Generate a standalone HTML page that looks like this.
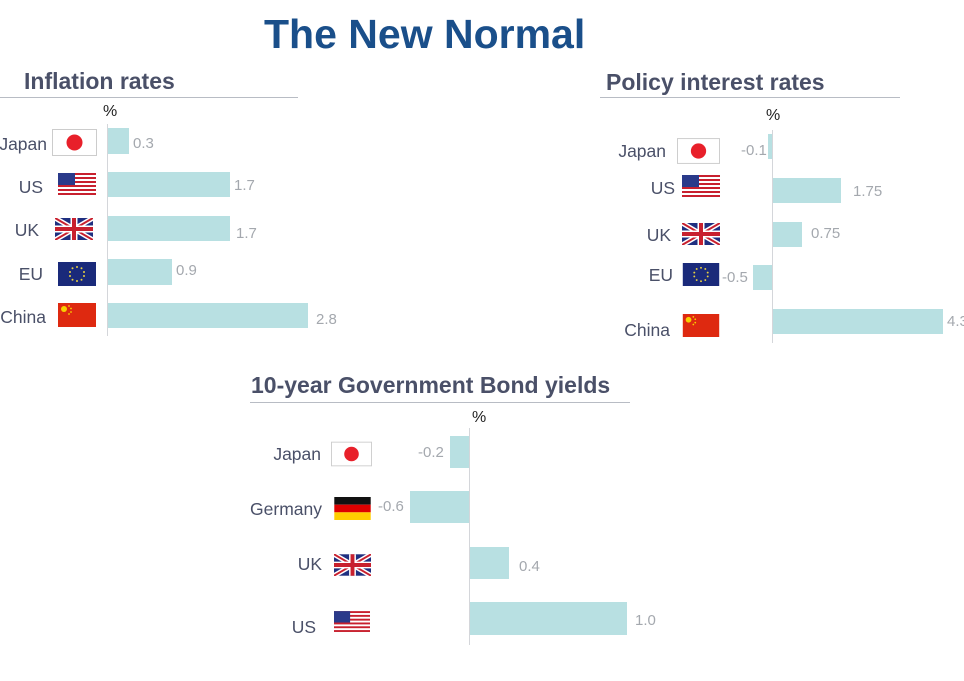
<!DOCTYPE html>
<html><head><meta charset="utf-8">
<style>
body{margin:0;width:964px;height:681px;background:#fff;position:relative;overflow:hidden;font-family:"Liberation Sans",Arial,sans-serif}
.a{position:absolute;white-space:nowrap}
.t{font-weight:bold;color:#4a5068;font-size:23px}
.ul{position:absolute;height:1px;background:#b8bcc4}
.ax{position:absolute;width:1px;background:#d4d6da}
.bar{position:absolute;background:#b8e0e2}
.c{position:absolute;color:#4a5068;font-size:17.5px;text-align:right;width:120px}
.v{position:absolute;color:#a4a8ae;font-size:15px}
.p{position:absolute;font-size:16px;color:#222}
svg{position:absolute}
</style></head><body>
<svg width="0" height="0" style="position:absolute">
<defs>
<symbol id="jp" viewBox="0 0 45 27"><rect x="0.5" y="0.5" width="44" height="26" fill="#fff" stroke="#ccc"/><circle cx="22.5" cy="13.5" r="8" fill="#e8202a"/></symbol>
<symbol id="us" viewBox="0 0 38 24"><rect width="38" height="24" fill="#fff"/><g fill="#c8202e"><rect y="0" width="38" height="2"/><rect y="4" width="38" height="2"/><rect y="8" width="38" height="2"/><rect y="12" width="38" height="2"/><rect y="16" width="38" height="2"/><rect y="20" width="38" height="2"/></g><rect width="17" height="12" fill="#2a3a8a"/></symbol>
<symbol id="uk" viewBox="0 0 38 22"><rect width="38" height="22" fill="#1f2f80"/><path d="M0 0L38 22M38 0L0 22" stroke="#fff" stroke-width="5"/><path d="M0 0L38 22M38 0L0 22" stroke="#c8202e" stroke-width="2"/><path d="M19 0V22M0 11H38" stroke="#fff" stroke-width="7"/><path d="M19 0V22M0 11H38" stroke="#c8202e" stroke-width="4"/></symbol>
<symbol id="eu" viewBox="0 0 38 24"><rect width="38" height="24" fill="#1a2a7a"/><g fill="#e8d040"><circle cx="19" cy="5" r="1"/><circle cx="23.5" cy="6.2" r="1"/><circle cx="26" cy="10" r="1"/><circle cx="26" cy="14" r="1"/><circle cx="23.5" cy="17.8" r="1"/><circle cx="19" cy="19" r="1"/><circle cx="14.5" cy="17.8" r="1"/><circle cx="12" cy="14" r="1"/><circle cx="12" cy="10" r="1"/><circle cx="14.5" cy="6.2" r="1"/></g></symbol>
<symbol id="cn" viewBox="0 0 38 24"><rect width="38" height="24" fill="#de2910"/><circle cx="6" cy="6" r="3" fill="#f8d000"/><g fill="#f8d000"><circle cx="11" cy="3" r="0.9"/><circle cx="13" cy="5.5" r="0.9"/><circle cx="13" cy="9" r="0.9"/><circle cx="11" cy="11" r="0.9"/></g></symbol>
<symbol id="de" viewBox="0 0 38 24"><rect width="38" height="8" fill="#111"/><rect y="8" width="38" height="8" fill="#dd0000"/><rect y="16" width="38" height="8" fill="#ffce00"/></symbol>
</defs></svg>

<div class="a" style="left:264px;top:11px;font-size:41px;font-weight:bold;color:#1a4f8a">The New Normal</div>

<!-- Inflation -->
<div class="a t" style="left:24px;top:68px">Inflation rates</div>
<div class="ul" style="left:0;top:97px;width:298px"></div>
<div class="p" style="left:103px;top:103px">%</div>
<div class="ax" style="left:107px;top:124px;height:212px"></div>
<div class="c" style="left:-73px;top:134px">Japan</div>
<div class="c" style="left:-77px;top:177px">US</div>
<div class="c" style="left:-81px;top:220px">UK</div>
<div class="c" style="left:-77px;top:264px">EU</div>
<div class="c" style="left:-74px;top:307px">China</div>
<svg style="left:52px;top:129px" width="45" height="27"><use href="#jp"/></svg>
<svg style="left:58px;top:173px" width="38" height="24"><use href="#us"/></svg>
<svg style="left:55px;top:218px" width="38" height="22"><use href="#uk"/></svg>
<svg style="left:58px;top:262px" width="38" height="24"><use href="#eu"/></svg>
<svg style="left:58px;top:303px" width="38" height="24"><use href="#cn"/></svg>
<div class="bar" style="left:108px;top:128px;width:21px;height:26px"></div>
<div class="bar" style="left:108px;top:172px;width:122px;height:25px"></div>
<div class="bar" style="left:108px;top:216px;width:122px;height:25px"></div>
<div class="bar" style="left:108px;top:259px;width:64px;height:26px"></div>
<div class="bar" style="left:108px;top:303px;width:200px;height:25px"></div>
<div class="v" style="left:133px;top:135px">0.3</div>
<div class="v" style="left:234px;top:177px">1.7</div>
<div class="v" style="left:236px;top:225px">1.7</div>
<div class="v" style="left:176px;top:262px">0.9</div>
<div class="v" style="left:316px;top:311px">2.8</div>

<!-- Policy -->
<div class="a t" style="left:606px;top:69px">Policy interest rates</div>
<div class="ul" style="left:600px;top:97px;width:300px"></div>
<div class="p" style="left:766px;top:107px">%</div>
<div class="ax" style="left:772px;top:130px;height:213px"></div>
<div class="c" style="left:546px;top:141px">Japan</div>
<div class="c" style="left:555px;top:178px">US</div>
<div class="c" style="left:551px;top:225px">UK</div>
<div class="c" style="left:553px;top:265px">EU</div>
<div class="c" style="left:550px;top:320px">China</div>
<svg style="left:677px;top:138px" width="43" height="26"><use href="#jp"/></svg>
<svg style="left:682px;top:175px" width="38" height="24"><use href="#us"/></svg>
<svg style="left:682px;top:223px" width="38" height="22"><use href="#uk"/></svg>
<svg style="left:682px;top:263px" width="38" height="23"><use href="#eu"/></svg>
<svg style="left:682px;top:314px" width="38" height="23"><use href="#cn"/></svg>
<div class="bar" style="left:768px;top:134px;width:4px;height:25px"></div>
<div class="bar" style="left:773px;top:178px;width:68px;height:25px"></div>
<div class="bar" style="left:773px;top:222px;width:29px;height:25px"></div>
<div class="bar" style="left:753px;top:265px;width:19px;height:25px"></div>
<div class="bar" style="left:773px;top:309px;width:170px;height:25px"></div>
<div class="v" style="left:741px;top:142px">-0.1</div>
<div class="v" style="left:853px;top:183px">1.75</div>
<div class="v" style="left:811px;top:225px">0.75</div>
<div class="v" style="left:722px;top:269px">-0.5</div>
<div class="v" style="left:947px;top:313px">4.3</div>

<!-- Bonds -->
<div class="a t" style="left:251px;top:372px">10-year Government Bond yields</div>
<div class="ul" style="left:250px;top:402px;width:380px"></div>
<div class="p" style="left:472px;top:409px">%</div>
<div class="ax" style="left:469px;top:428px;height:217px"></div>
<div class="c" style="left:201px;top:444px">Japan</div>
<div class="c" style="left:202px;top:499px">Germany</div>
<div class="c" style="left:202px;top:554px">UK</div>
<div class="c" style="left:196px;top:617px">US</div>
<svg style="left:331px;top:440px" width="41" height="28"><use href="#jp"/></svg>
<svg style="left:334px;top:497px" width="37" height="23"><use href="#de"/></svg>
<svg style="left:334px;top:554px" width="37" height="22"><use href="#uk"/></svg>
<svg style="left:334px;top:611px" width="36" height="23"><use href="#us"/></svg>
<div class="bar" style="left:450px;top:436px;width:19px;height:32px"></div>
<div class="bar" style="left:410px;top:491px;width:59px;height:32px"></div>
<div class="bar" style="left:470px;top:547px;width:39px;height:32px"></div>
<div class="bar" style="left:470px;top:602px;width:157px;height:33px"></div>
<div class="v" style="left:418px;top:444px">-0.2</div>
<div class="v" style="left:378px;top:498px">-0.6</div>
<div class="v" style="left:519px;top:558px">0.4</div>
<div class="v" style="left:635px;top:612px">1.0</div>
</body></html>
